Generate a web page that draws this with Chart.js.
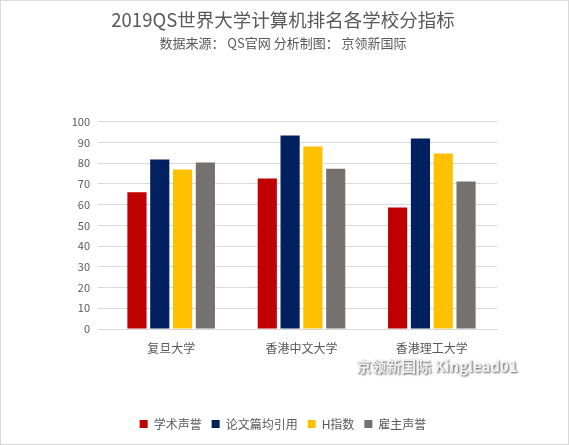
<!DOCTYPE html>
<html>
<head>
<meta charset="utf-8">
<script src="https://cdn.jsdelivr.net/npm/chart.js@4"></script>
<style>
  html, body { margin: 0; padding: 0; background: #fff; }
  #wrap { width: 567px; height: 443px; border: 1px solid #d9d9d9; }
</style>
</head>
<body>
<div id="wrap"><canvas id="qsChart" width="567" height="443"></canvas></div>
<script>
// categories and series
const schools = ["复旦大学", "香港中文大学", "香港理工大学"];
const seriesNames = ["学术声誉", "论文篇均引用", "H指数", "雇主声誉"];
const academicRep = [66.0, 72.6, 58.6];
const citations = [81.8, 93.4, 92.0];
const hIndex = [77.0, 88.1, 84.7];
const employerRep = [80.3, 77.4, 71.2];
const colors = ["#C00000", "#002060", "#FFC000", "#767171"];

const font = "'Noto Sans CJK SC', 'Noto Sans', sans-serif";
const textColor = "#595959";

// watermark in the lower right
const watermark = {
  id: "watermark",
  afterDraw(chart) {
    const c = chart.ctx;
    c.save();
    c.font = "bold 15px " + font;
    c.textAlign = "center";
    c.textBaseline = "middle";
    c.shadowColor = "rgba(0,0,0,0.65)";
    c.shadowBlur = 2;
    c.shadowOffsetX = 1;
    c.shadowOffsetY = 1;
    c.fillStyle = "#f2f2f2";
    c.fillText("京领新国际 Kinglead01", 436, 365);
    c.restore();
  }
};

const ctx = document.getElementById("qsChart").getContext("2d");
const qsChart = new Chart(ctx, {
  type: "bar",
  data: {
    labels: schools,
    datasets: [
      { label: seriesNames[0], data: academicRep, backgroundColor: colors[0] },
      { label: seriesNames[1], data: citations, backgroundColor: colors[1] },
      { label: seriesNames[2], data: hIndex, backgroundColor: colors[2] },
      { label: seriesNames[3], data: employerRep, backgroundColor: colors[3] },
    ],
  },
  options: {
    responsive: false,
    animation: false,
    datasets: { bar: { categoryPercentage: 0.7, barPercentage: 0.84 } },
    layout: { padding: { left: 68, right: 71, top: 6, bottom: 4 } },
    plugins: {
      title: {
        display: true,
        text: "2019QS世界大学计算机排名各学校分指标",
        color: textColor,
        font: { family: font, size: 18.5, weight: "normal" },
        padding: { top: 2, bottom: 0 },
      },
      subtitle: {
        display: true,
        text: "数据来源： QS官网 分析制图： 京领新国际",
        color: textColor,
        font: { family: font, size: 13, weight: "normal" },
        padding: { top: 4, bottom: 71 },
      },
      legend: {
        position: "bottom",
        labels: {
          color: textColor,
          font: { family: font, size: 12 },
          boxWidth: 8,
          boxHeight: 8,
          padding: 10,
        },
      },
      tooltip: { enabled: false },
    },
    scales: {
      x: {
        grid: { display: false },
        border: { color: "#d9d9d9" },
        ticks: { color: textColor, font: { family: font, size: 12 }, padding: 4 },
        afterFit(s) { s.height = 79; },
      },
      y: {
        min: 0,
        max: 100,
        ticks: { stepSize: 10, color: textColor, font: { family: font, size: 11 }, padding: 8 },
        grid: { color: "#d9d9d9" },
        border: { display: false },
        afterFit(s) { s.width = 37; },
      },
    },
  },
  plugins: [watermark],
});
</script>
</body>
</html>
